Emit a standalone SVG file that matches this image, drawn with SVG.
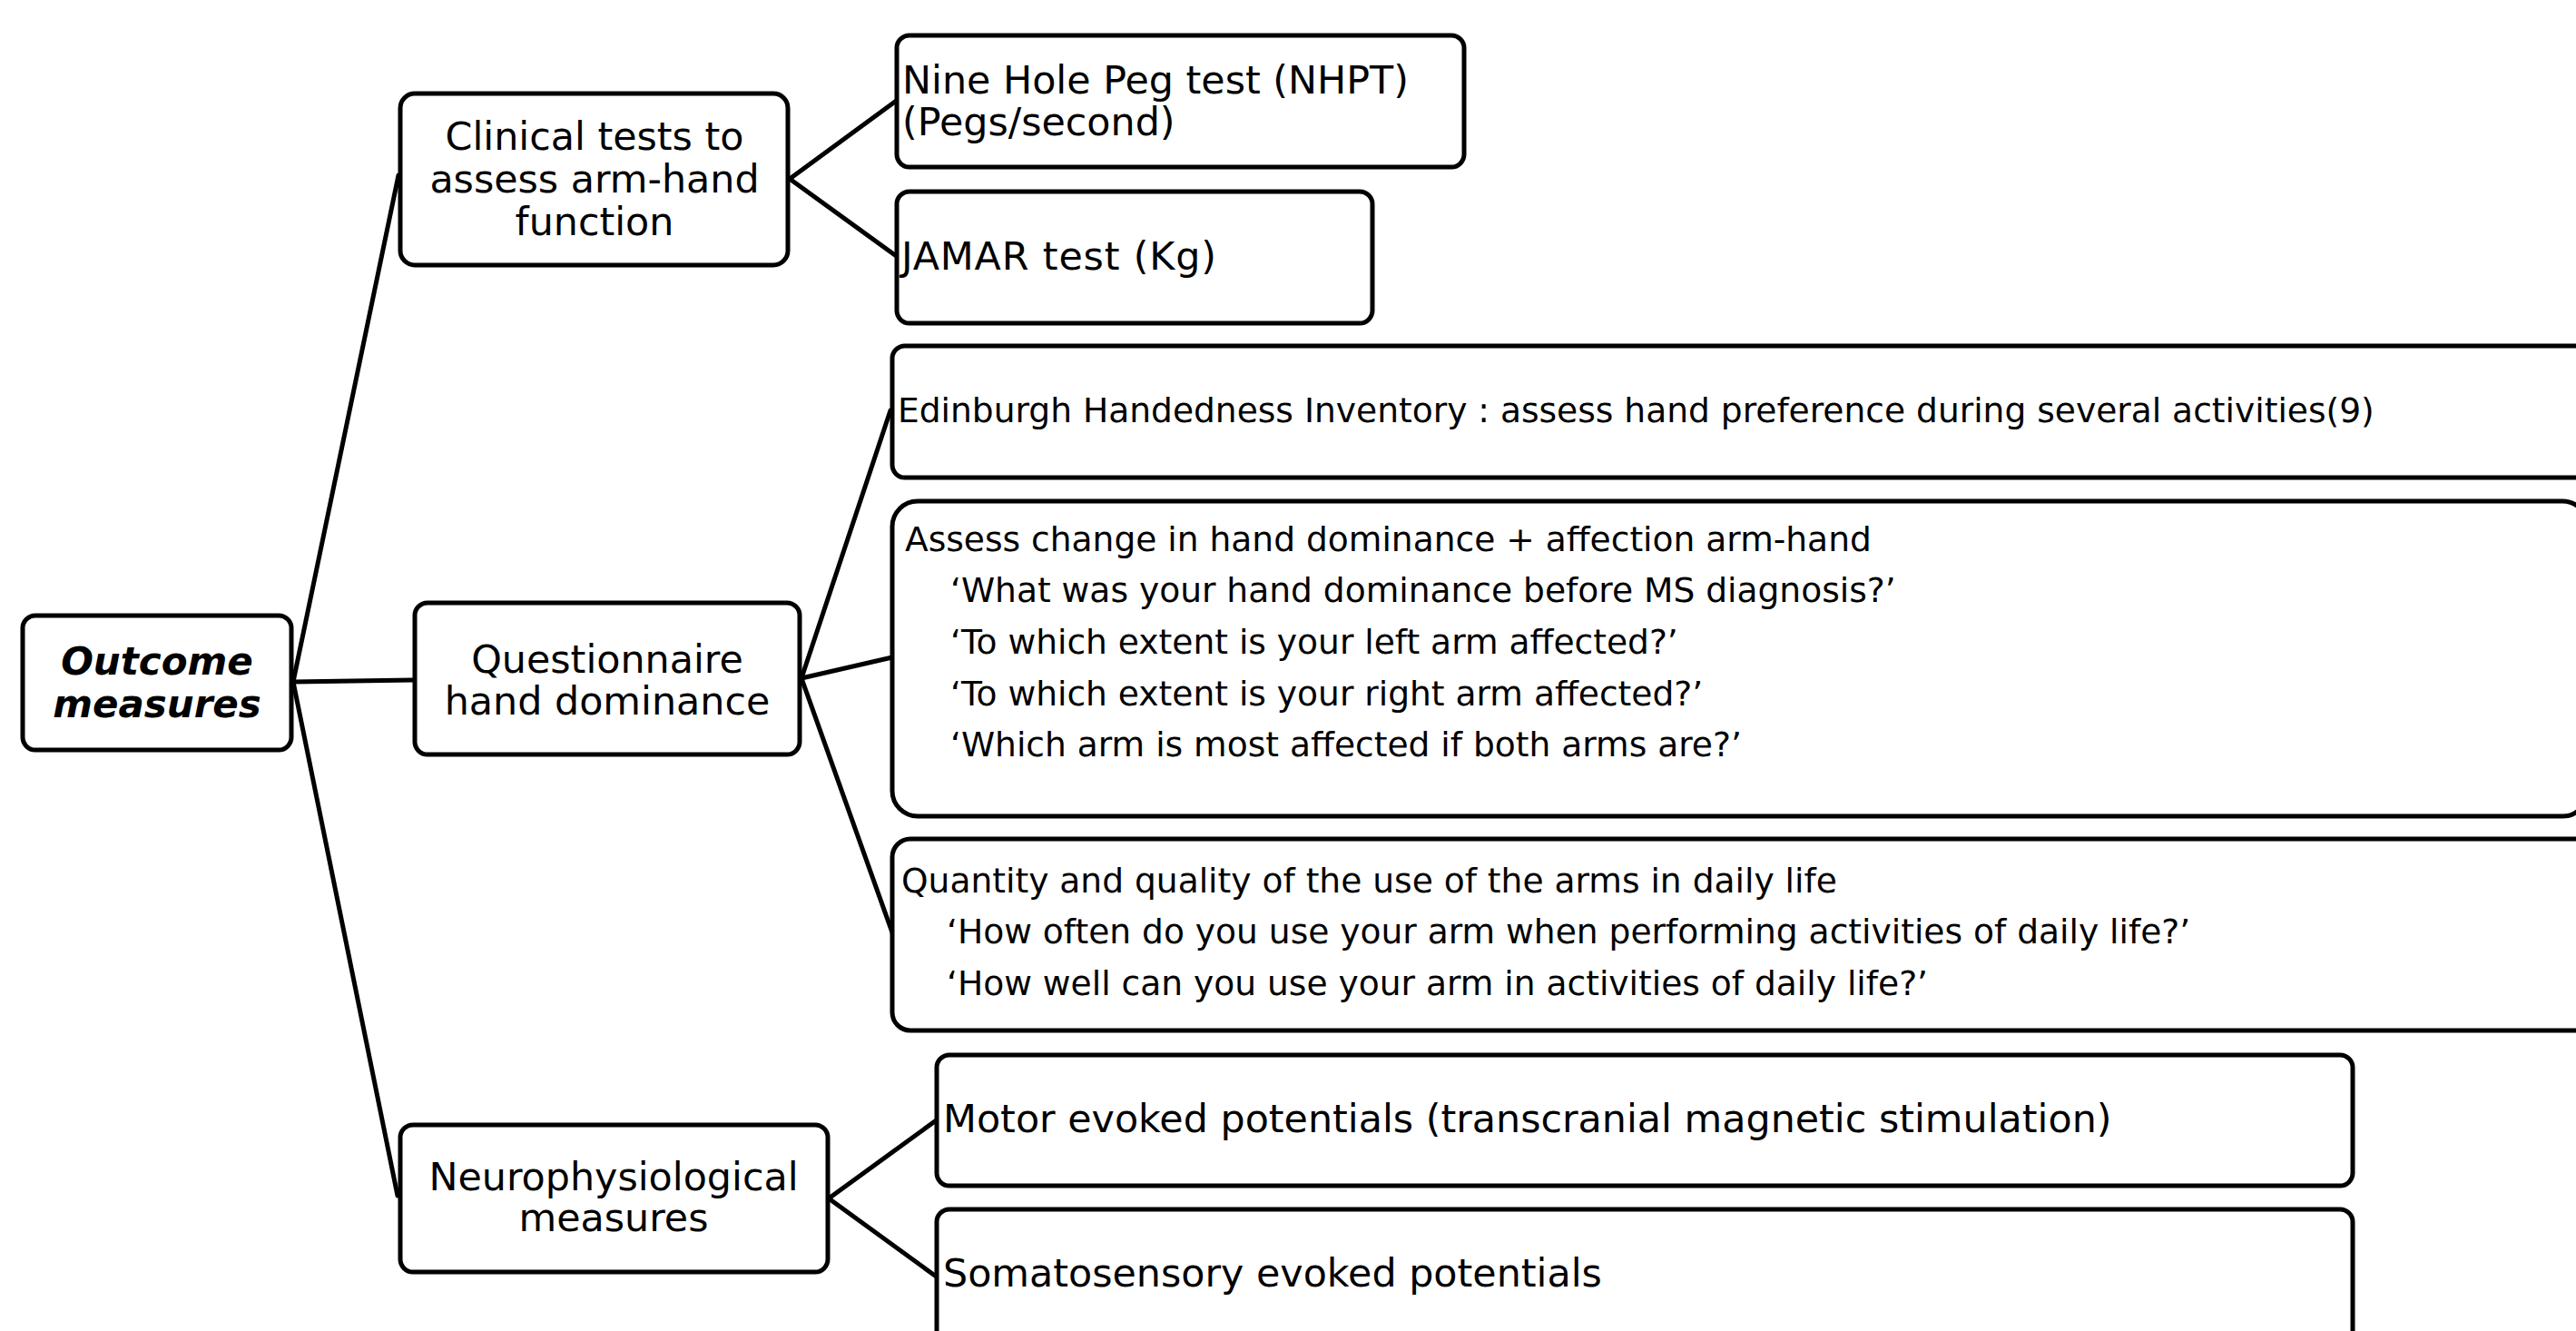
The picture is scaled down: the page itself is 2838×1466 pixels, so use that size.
<svg xmlns="http://www.w3.org/2000/svg" width="2838" height="1466" viewBox="0 0 2838 1466">
<style>
.box{fill:#fff;stroke:#000;stroke-width:5}
.t{font-family:"DejaVu Sans","Verdana",sans-serif;fill:#000}
.big{font-size:42.8px}
.sm{font-size:37.6px}
.c{text-anchor:middle}
.title{font-weight:bold;font-style:italic;font-size:42px}
#connectors line{stroke:#000;stroke-width:5;stroke-linecap:round}
</style>
<rect width="2838" height="1466" fill="#fff"/>
<g id="connectors">
<line x1="323" y1="751" x2="439" y2="193"/>
<line x1="323" y1="751" x2="455" y2="749"/>
<line x1="323" y1="751" x2="438" y2="1317"/>
<line x1="870" y1="197" x2="986" y2="112"/>
<line x1="870" y1="197" x2="986" y2="281"/>
<line x1="883" y1="747" x2="981" y2="452"/>
<line x1="883" y1="747" x2="983" y2="724"/>
<line x1="883" y1="747" x2="984" y2="1030"/>
<line x1="913" y1="1320" x2="1030" y2="1235"/>
<line x1="913" y1="1320" x2="1030" y2="1405"/>
</g>
<g id="outcome">
<rect class="box" x="25" y="678" width="296" height="148" rx="14"/>
<text class="t big c title" x="173" y="743">Outcome</text>
<text class="t big c title" x="173" y="790">measures</text>
</g>
<g id="clinical">
<rect class="box" x="441" y="103" width="427" height="189" rx="16"/>
<text class="t big c" x="655" y="165">Clinical tests to</text>
<text class="t big c" x="655" y="212">assess arm-hand</text>
<text class="t big c" x="655" y="259">function</text>
</g>
<g id="questionnaire">
<rect class="box" x="457" y="664" width="424" height="167" rx="14"/>
<text class="t big c" x="669" y="741">Questionnaire</text>
<text class="t big c" x="669" y="787">hand dominance</text>
</g>
<g id="neuro">
<rect class="box" x="441" y="1239" width="471" height="162" rx="14"/>
<text class="t big c" x="676" y="1311">Neurophysiological</text>
<text class="t big c" x="676" y="1356">measures</text>
</g>
<g id="nhpt">
<rect class="box" x="988" y="39" width="625" height="145" rx="14"/>
<text class="t big" x="994" y="103">Nine Hole Peg test (NHPT)</text>
<text class="t big" x="994" y="149">(Pegs/second)</text>
</g>
<g id="jamar">
<rect class="box" x="988" y="211" width="524" height="145" rx="14"/>
<text class="t big" x="993" y="297" textLength="347" lengthAdjust="spacing">JAMAR test (Kg)</text>
</g>
<g id="edinburgh">
<rect class="box" x="983" y="381" width="1900" height="145" rx="14"/>
<text class="t sm" x="989" y="465">Edinburgh Handedness Inventory : assess hand preference during several activities(9)</text>
</g>
<g id="assess">
<rect class="box" x="983" y="552" width="1868" height="347" rx="28"/>
<text class="t sm" x="997" y="607">Assess change in hand dominance + affection arm-hand</text>
<text class="t sm" x="1047" y="663">‘What was your hand dominance before MS diagnosis?’</text>
<text class="t sm" x="1047" y="720">‘To which extent is your left arm affected?’</text>
<text class="t sm" x="1047" y="777">‘To which extent is your right arm affected?’</text>
<text class="t sm" x="1047" y="833">‘Which arm is most affected if both arms are?’</text>
</g>
<g id="quantity">
<rect class="box" x="983" y="924" width="1900" height="211" rx="20"/>
<text class="t sm" x="993" y="983">Quantity and quality of the use of the arms in daily life</text>
<text class="t sm" x="1043" y="1039">‘How often do you use your arm when performing activities of daily life?’</text>
<text class="t sm" x="1043" y="1096">‘How well can you use your arm in activities of daily life?’</text>
</g>
<g id="motor">
<rect class="box" x="1032" y="1162" width="1560" height="144" rx="14"/>
<text class="t big" x="1039" y="1247">Motor evoked potentials (transcranial magnetic stimulation)</text>
</g>
<g id="somato">
<rect class="box" x="1032" y="1332" width="1560" height="200" rx="14"/>
<text class="t big" x="1039" y="1417">Somatosensory evoked potentials</text>
</g>
</svg>
